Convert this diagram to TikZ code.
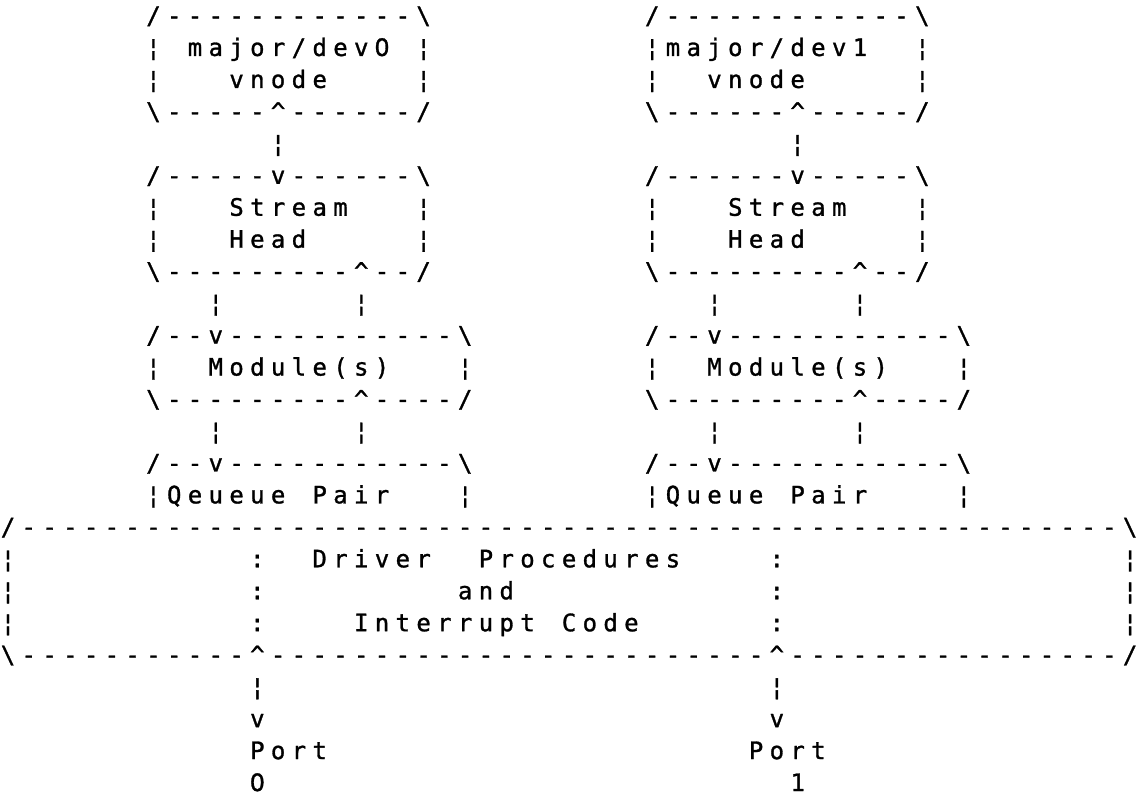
\documentclass[tikz,border=0pt]{standalone}
\usepackage{fontspec}
\newfontfamily\asciifont[FakeBold=1.2]{DejaVu Sans Mono}
\newfontfamily\zerofont[FakeBold=1.2]{DejaVu Sans}

% character grid: column pitch and row pitch in px
\newcommand\colpitch{20.78}
\newcommand\rowpitch{31.96}
\newcount\asciicol
\def\bsl{\textbackslash}
\def\crt{\textasciicircum}
\def\zro{{\zerofont 0}}

% place one character cell; '.' leaves the cell blank
\def\asciichar#1{%
  \ifx#1.\else
    \node[glyph, name={g\the\asciicol-\asciirow}]
      at ({8+\colpitch*\the\asciicol},{24+\rowpitch*\asciirow}) {#1};%
  \fi
  \advance\asciicol by 1\relax}
\def\asciiloop#1{%
  \ifx#1\relax\let\asciinext\relax
  \else\def\asciinext{\asciichar{#1}\asciiloop}\fi
  \asciinext}
% \ascii{column}{row}{characters}
\def\ascii#1#2#3{\asciicol=#1\relax\def\asciirow{#2}\asciiloop#3\relax}

\begin{document}
\begin{tikzpicture}[x=0.5pt,y=-0.5pt,
  glyph/.style={inner sep=0pt, anchor=base,
    font=\asciifont\fontsize{12}{12}\selectfont}]
\fill[white] (0,0) rectangle (1136,795);
\useasboundingbox (0,0) rectangle (1136,795);

% vnode boxes
\ascii{7}{0}{/------------\bsl}
\ascii{31}{0}{/------------\bsl}
\ascii{7}{1}{¦.major/dev\zro.¦}
\ascii{31}{1}{¦major/dev1..¦}
\ascii{7}{2}{¦...vnode....¦}
\ascii{31}{2}{¦..vnode.....¦}
\ascii{7}{3}{\bsl-----\crt------/}
\ascii{31}{3}{\bsl------\crt-----/}
\ascii{13}{4}{¦}
\ascii{38}{4}{¦}

% stream heads
\ascii{7}{5}{/-----v------\bsl}
\ascii{31}{5}{/------v-----\bsl}
\ascii{7}{6}{¦...Stream...¦}
\ascii{31}{6}{¦...Stream...¦}
\ascii{7}{7}{¦...Head.....¦}
\ascii{31}{7}{¦...Head.....¦}
\ascii{7}{8}{\bsl---------\crt--/}
\ascii{31}{8}{\bsl---------\crt--/}
\ascii{10}{9}{¦......¦}
\ascii{34}{9}{¦......¦}

% modules
\ascii{7}{10}{/--v-----------\bsl}
\ascii{31}{10}{/--v-----------\bsl}
\ascii{7}{11}{¦..Module(s)...¦}
\ascii{31}{11}{¦..Module(s)...¦}
\ascii{7}{12}{\bsl---------\crt----/}
\ascii{31}{12}{\bsl---------\crt----/}
\ascii{10}{13}{¦......¦}
\ascii{34}{13}{¦......¦}

% queue pairs
\ascii{7}{14}{/--v-----------\bsl}
\ascii{31}{14}{/--v-----------\bsl}
\ascii{7}{15}{¦Qeueue.Pair...¦}
\ascii{31}{15}{¦Queue.Pair....¦}

% driver box
\ascii{0}{16}{/-----------------------------------------------------\bsl}
\ascii{0}{17}{¦...........:..Driver..Procedures....:................¦}
\ascii{0}{18}{¦...........:.........and............:................¦}
\ascii{0}{19}{¦...........:....Interrupt.Code......:................¦}
\ascii{0}{20}{\bsl-----------\crt------------------------\crt----------------/}

% ports
\ascii{12}{21}{¦}
\ascii{37}{21}{¦}
\ascii{12}{22}{v}
\ascii{37}{22}{v}
\ascii{12}{23}{Port}
\ascii{36}{23}{Port}
\ascii{12}{24}{\zro}
\ascii{38}{24}{1}
\end{tikzpicture}
\end{document}
